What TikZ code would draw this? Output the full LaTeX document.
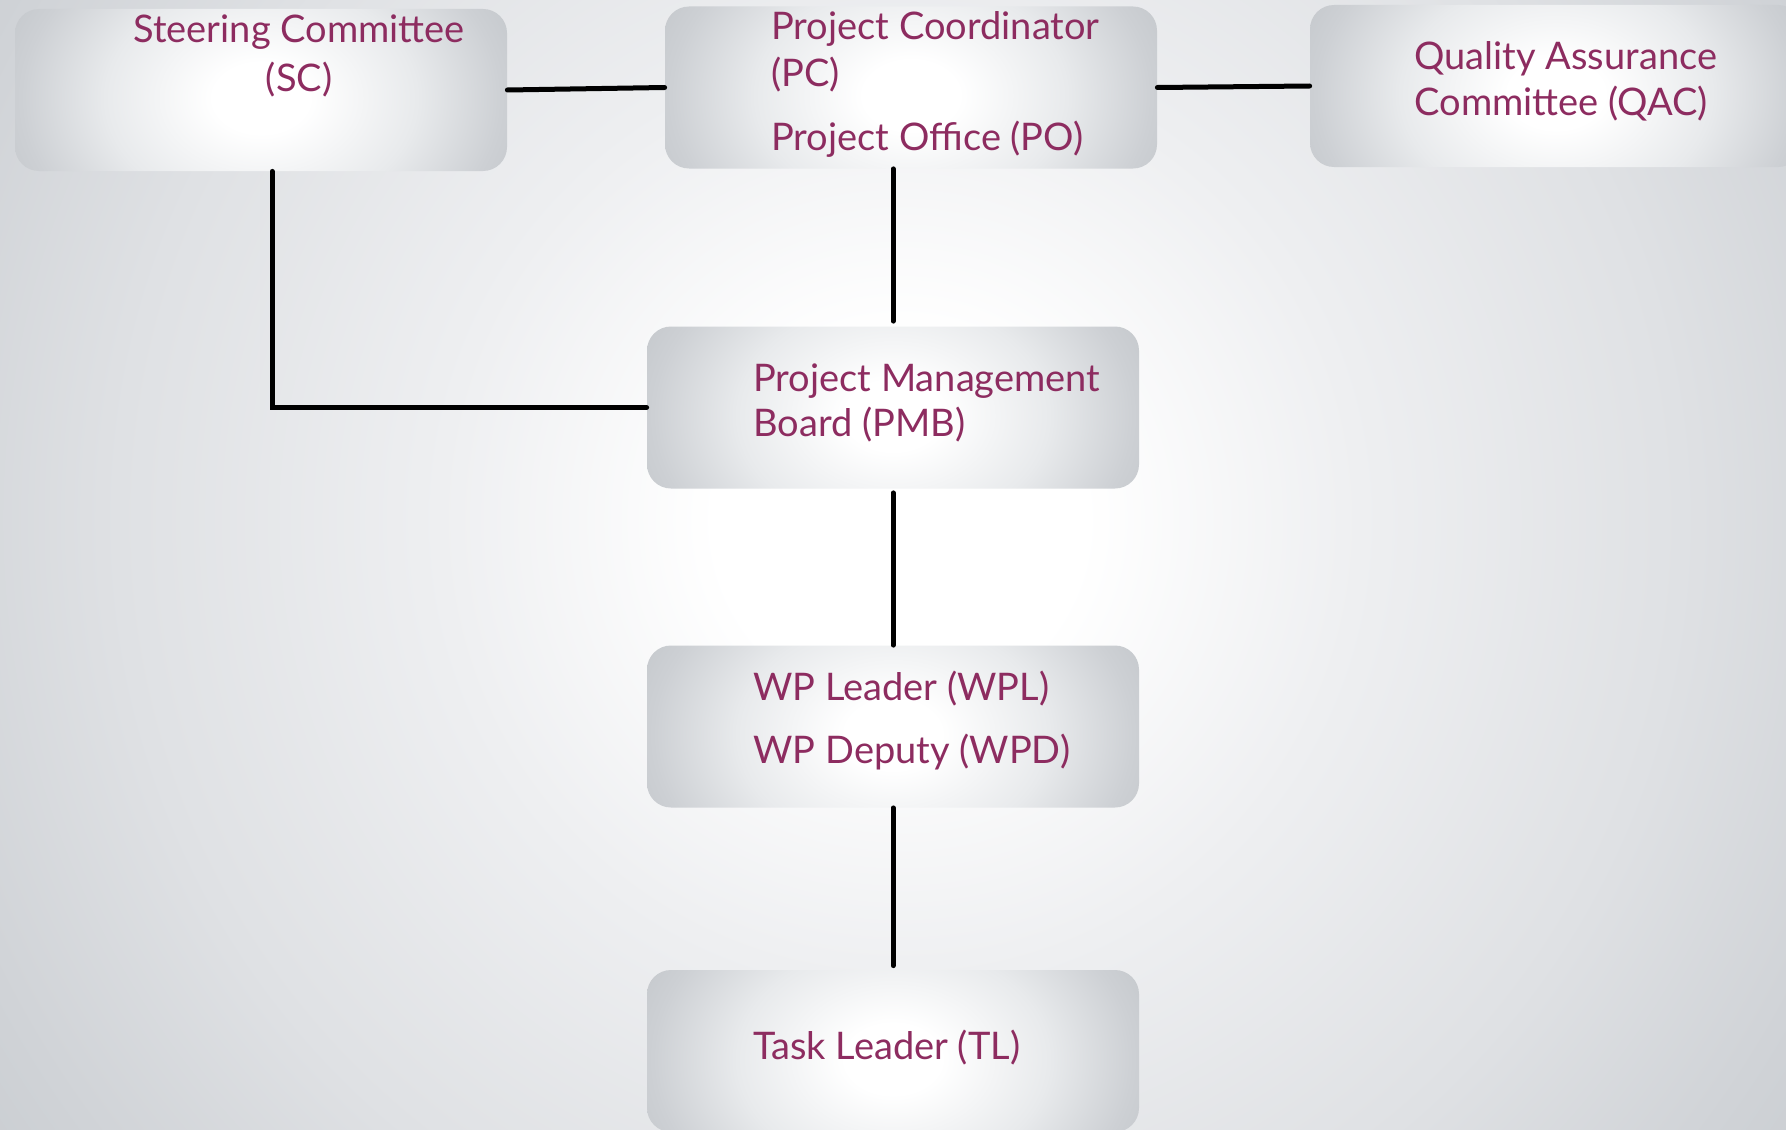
\documentclass[tikz,border=0pt]{standalone}
\usepackage{fontspec}
\setmainfont{Lato}
\usetikzlibrary{calc}
\definecolor{txt}{HTML}{8D2C60}
\definecolor{bgA}{HTML}{EEEFF1}
\definecolor{bgB}{HTML}{DFE1E4}
\definecolor{bgC}{HTML}{D0D3D7}
\definecolor{bgD}{HTML}{C8CCD0}
\definecolor{bxA}{HTML}{E8EAEC}
\definecolor{bxB}{HTML}{CDD0D4}
\definecolor{bxC}{HTML}{C0C4C8}
\pgfdeclareradialshading{bgsh}{\pgfpoint{0bp}{0bp}}{color(0bp)=(white); color(4bp)=(white); color(10bp)=(bgA); color(17bp)=(bgB); color(22bp)=(bgC); color(25bp)=(bgD); color(50bp)=(bgD)}
\pgfdeclareradialshading{boxsh}{\pgfpoint{0bp}{0bp}}{color(0bp)=(white); color(4bp)=(white); color(13bp)=(bxA); color(20bp)=(bxB); color(25bp)=(bxC); color(50bp)=(bxC)}
\begin{document}
\begin{tikzpicture}[x=0.5pt,y=-0.5pt,
  box/.style={rounded corners=12pt, minimum width=246pt, minimum height=81pt, inner sep=0pt,
    path picture={\shade[shading=boxsh] ([yshift=-4pt]path picture bounding box.center) ellipse [x radius=150pt, y radius=110pt];}},
  lbl/.style={anchor=base west, text=txt, font=\fontsize{19}{22}\selectfont, inner sep=0pt},
  conn/.style={line width=2.5pt, line cap=round, draw=black}]
\useasboundingbox (0,0) rectangle (1786,1129);
\begin{scope}
\clip (0,0) rectangle (1786,1129);
\shade[shading=bgsh] (900,520) circle [radius=575pt];
\end{scope}
% boxes
\node[box] (sc) at (261,90) {};
\node[box] (pc) at (911,87.5) {};
\node[box] (qac) at (1556,86) {};
\node[box] (pmb) at (893,407.5) {};
\node[box] (wpl) at (893,726.5) {};
\node[box] (tl) at (893,1051) {};
% texts
\node[lbl, anchor=base] (sc1) at (299,43) {Steering Committee};
\node[lbl, anchor=base] (sc2) at (299,91) {(SC)};
\node[lbl] (pc1) at (771,40) {Project Coordinator};
\node[lbl] (pc2) at (771,87) {(PC)};
\node[lbl] (pc3) at (771,150) {Project Office (PO)};
\node[lbl] (qac1) at (1414,69) {Quality Assurance};
\node[lbl] (qac2) at (1414,116) {Committee (QAC)};
\node[lbl] (pmb1) at (753,391) {Project Management};
\node[lbl] (pmb2) at (753,436) {Board (PMB)};
\node[lbl] (wpl1) at (753,700) {WP Leader (WPL)};
\node[lbl] (wpl2) at (753,763) {WP Deputy (WPD)};
\node[lbl] (tl1) at (753,1059) {Task Leader (TL)};
% connectors
\draw[conn] (sc.east) -- (pc.west);
\draw[conn] (pc.east) -- (qac.west);
\draw[conn] ([yshift=2.5pt]pmb.north) -- (pmb.north |- pc.south);
\draw[conn] ([xshift=5.5pt]sc.south) |- (pmb.west);
\draw[conn] ([yshift=-2pt]pmb.south) -- (wpl.north);
\draw[conn] (wpl.south) -- ([yshift=2pt]tl.north);
\end{tikzpicture}
\end{document}
